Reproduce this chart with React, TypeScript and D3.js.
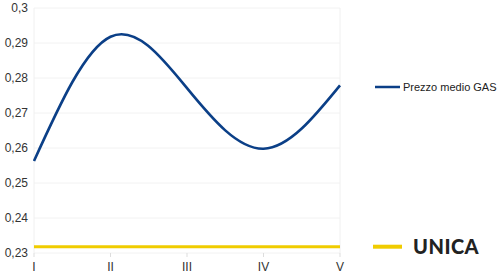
import React from "react";
import * as d3 from "d3";

const categories = ["I", "II", "III", "IV", "V"];
const gasValues = [0.2563, 0.2918, 0.2771, 0.2598, 0.2779];
const unicaValues = [0.2318, 0.2318, 0.2318, 0.2318, 0.2318];
const yTicks = [0.23, 0.24, 0.25, 0.26, 0.27, 0.28, 0.29, 0.3];
const gasLabel = "Prezzo medio GAS";
const unicaLabel = "UNICA";

export default function App() {
  const W = 500, H = 276;
  const x = d3.scalePoint<string>().domain(categories).range([34, 340]);
  const y = d3.scaleLinear().domain([0.23, 0.3]).range([253, 8]);
  const line = d3
    .line<number>()
    .x((_, i) => x(categories[i]) as number)
    .y((d) => y(d))
    .curve(d3.curveNatural);
  const flat = d3
    .line<number>()
    .x((_, i) => x(categories[i]) as number)
    .y((d) => y(d));
  const fmt = (v: number) => String(+v.toFixed(2)).replace(".", ",");
  return (
    <svg width={W} height={H} style={{ position: "absolute", left: 0, top: 0, background: "#fff" }}>
      {yTicks.map((t) => (
        <g key={t}>
          <line x1={34} x2={340} y1={y(t)} y2={y(t)} stroke="#f2f2f2" strokeWidth={1} />
          <text x={28} y={y(t) + 4} textAnchor="end" fontFamily="Liberation Sans, Arial, sans-serif" fontSize={12} fill="#333">
            {fmt(t)}
          </text>
        </g>
      ))}
      <line x1={34} x2={34} y1={8} y2={253} stroke="#f0f0f0" />
      <line x1={340} x2={340} y1={8} y2={253} stroke="#f0f0f0" />
      {categories.map((c) => (
        <g key={c}>
          <line x1={x(c)} x2={x(c)} y1={253} y2={257} stroke="#ddd" />
          <text x={x(c)} y={271} textAnchor="middle" fontFamily="Liberation Sans, Arial, sans-serif" fontSize={12} fill="#333">
            {c}
          </text>
        </g>
      ))}
      <path d={flat(unicaValues) || ""} fill="none" stroke="#f0cc00" strokeWidth={3} />
      <path d={line(gasValues) || ""} fill="none" stroke="#0b3f87" strokeWidth={2.6} />
      <line x1={375} x2={400} y1={87} y2={87} stroke="#0b3f87" strokeWidth={2.5} />
      <text x={403} y={91} fontFamily="Liberation Sans, Arial, sans-serif" fontSize={11} fill="#222">
        {gasLabel}
      </text>
      <line x1={373} x2={402} y1={246.7} y2={246.7} stroke="#f0cc00" strokeWidth={4} />
      <text x={413} y={253.5} fontFamily="Lato, sans-serif" fontWeight={900} fontSize={20} fill="#222" letterSpacing={0.5}>
        {unicaLabel}
      </text>
    </svg>
  );
}
